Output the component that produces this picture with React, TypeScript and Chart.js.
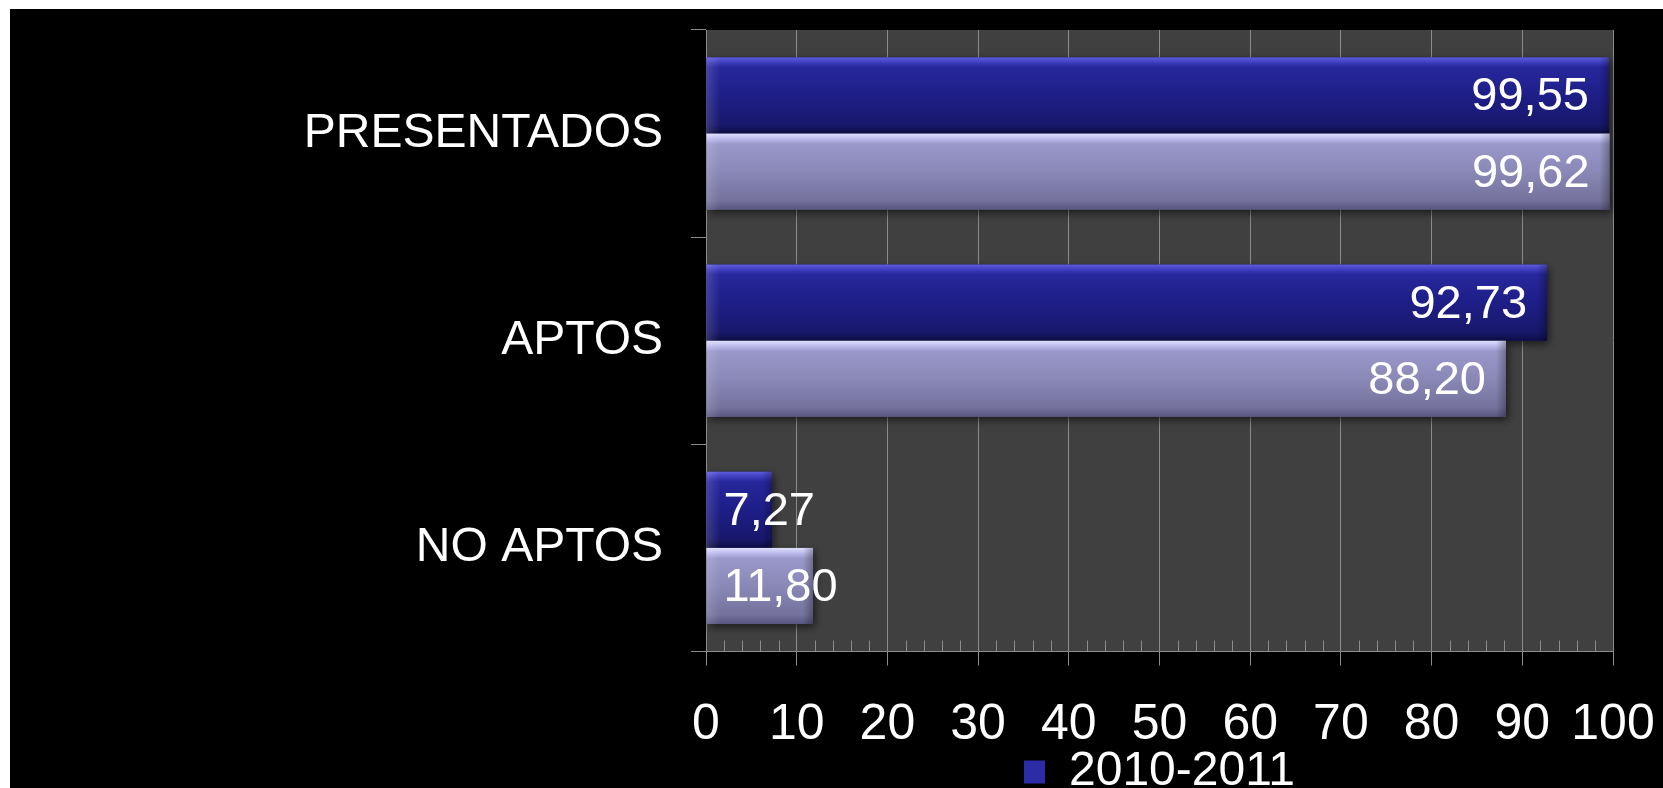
import React, { useEffect, useRef } from "react";
import { Chart, registerables } from "chart.js";

Chart.register(...registerables);

const categories = ["PRESENTADOS", "APTOS", "NO APTOS"];
const seriesNames = ["2010-2011", "2011-2012"];
const values20102011 = [99.55, 92.73, 7.27];
const values20112012 = [99.62, 88.2, 11.8];
const xMin = 0;
const xMax = 100;
const xStep = 10;
const minorStep = 2;

const FONT = "'Liberation Sans', Arial, Helvetica, sans-serif";

const darkStops: [number, string][] = [
  [0, "#5c5cdc"],
  [0.07, "#3c3cbc"],
  [0.13, "#27279c"],
  [0.5, "#1e1e88"],
  [0.88, "#18186c"],
  [1, "#0e0e48"],
];
const lightStops: [number, string][] = [
  [0, "#e0e0ff"],
  [0.07, "#bcbaec"],
  [0.14, "#9a98ca"],
  [0.5, "#8a88b6"],
  [0.88, "#74729c"],
  [1, "#585680"],
];

const bgPlugin = {
  id: "plotBg",
  beforeDraw(chart: any) {
    const { ctx, chartArea } = chart;
    ctx.save();
    ctx.fillStyle = "#404040";
    ctx.fillRect(chartArea.left, chartArea.top, chartArea.right - chartArea.left, chartArea.bottom - chartArea.top);
    ctx.restore();
  },
};

const minorTickPlugin = {
  id: "minorTicks",
  beforeDatasetsDraw(chart: any) {
    const { ctx, chartArea } = chart;
    const xs = chart.scales.x;
    ctx.save();
    ctx.strokeStyle = "#8c8c8c";
    ctx.lineWidth = 1;
    for (let v = xMin; v <= xMax; v += minorStep) {
      if (v % xStep === 0) continue;
      const px = Math.round(xs.getPixelForValue(v)) + 0.5;
      ctx.beginPath();
      ctx.moveTo(px, chartArea.bottom);
      ctx.lineTo(px, chartArea.bottom - 11);
      ctx.stroke();
    }
    ctx.restore();
  },
};

const barStylePlugin = {
  id: "barStyle",
  afterDatasetsDraw(chart: any) {
    const { ctx } = chart;
    const labelsToDraw: any[] = [];
    chart.data.datasets.forEach((ds: any, di: number) => {
      const meta = chart.getDatasetMeta(di);
      if (meta.hidden) return;
      const stops = di === 0 ? darkStops : lightStops;
      meta.data.forEach((el: any, i: number) => {
        const { x, y, base, height } = el.getProps(["x", "y", "base", "height"], true);
        const left = Math.min(x, base);
        const w = Math.abs(x - base);
        const top = y - height / 2;
        const g = ctx.createLinearGradient(0, top, 0, top + height);
        stops.forEach(([o, c]) => g.addColorStop(o, c));
        ctx.save();
        ctx.shadowColor = "rgba(0,0,0,0.6)";
        ctx.shadowBlur = 8;
        ctx.shadowOffsetX = 2;
        ctx.shadowOffsetY = 3;
        ctx.fillStyle = g;
        ctx.fillRect(left, top, w, height);
        ctx.restore();
        ctx.save();
        const gl = ctx.createLinearGradient(left, 0, left + 14, 0);
        gl.addColorStop(0, "rgba(255,255,255,0.14)");
        gl.addColorStop(1, "rgba(255,255,255,0)");
        ctx.fillStyle = gl;
        ctx.fillRect(left, top, Math.min(14, w), height);
        const gr = ctx.createLinearGradient(left + w - 10, 0, left + w, 0);
        gr.addColorStop(0, "rgba(0,0,0,0)");
        gr.addColorStop(1, "rgba(0,0,0,0.28)");
        ctx.fillStyle = gr;
        ctx.fillRect(left + w - 10, top, 10, height);
        ctx.restore();
        labelsToDraw.push({ x, y, base, w, v: ds.data[i] });
      });
    });
    ctx.save();
    ctx.font = `47px ${FONT}`;
    ctx.fillStyle = "#ffffff";
    ctx.textBaseline = "middle";
    labelsToDraw.forEach((l) => {
      const txt = Number(l.v).toFixed(2).replace(".", ",");
      const tw = ctx.measureText(txt).width;
      if (tw + 40 <= l.w) {
        ctx.textAlign = "right";
        ctx.fillText(txt, l.x - 20, l.y + 2);
      } else {
        ctx.textAlign = "left";
        ctx.fillText(txt, l.base + 17, l.y + 2);
      }
    });
    ctx.restore();
  },
};

export default function App() {
  const ref = useRef<HTMLCanvasElement | null>(null);
  useEffect(() => {
    if (!ref.current) return;
    Chart.defaults.font.family = FONT;
    const chart = new Chart(ref.current, {
      type: "bar",
      data: {
        labels: categories,
        datasets: [
          {
            label: seriesNames[0],
            data: values20102011,
            backgroundColor: "#2c2ca6",
            borderWidth: 0,
            barPercentage: 1,
            categoryPercentage: 0.735,
          },
          {
            label: seriesNames[1],
            data: values20112012,
            backgroundColor: "#8a88b6",
            borderWidth: 0,
            barPercentage: 1,
            categoryPercentage: 0.735,
          },
        ],
      },
      options: {
        indexAxis: "y",
        responsive: false,
        animation: false,
        devicePixelRatio: 1,
        layout: { padding: { top: 21, right: 50, left: 0, bottom: 0 } },
        scales: {
          x: {
            min: xMin,
            max: xMax,
            ticks: {
              stepSize: xStep,
              color: "#ffffff",
              font: { size: 50, lineHeight: 1.2 },
              padding: 30,
              maxRotation: 0,
              autoSkip: false,
            },
            grid: {
              color: "#8c8c8c",
              lineWidth: 1,
              tickLength: 14,
              drawTicks: true,
            },
            border: { color: "#8c8c8c", width: 1 },
            afterFit: (s: any) => {
              s.height = 90;
              s.paddingLeft = 0;
              s.paddingRight = 0;
              s.paddingTop = 0;
              s.paddingBottom = 0;
            },
          },
          y: {
            ticks: {
              color: "#ffffff",
              font: { size: 48 },
              padding: 28,
            },
            grid: {
              drawOnChartArea: false,
              color: "#8c8c8c",
              tickLength: 15,
              offset: true,
            },
            border: { color: "#8c8c8c", width: 1 },
            afterFit: (s: any) => {
              s.width = 696;
              s.paddingLeft = 0;
              s.paddingRight = 0;
              s.paddingTop = 0;
              s.paddingBottom = 0;
            },
          },
        },
        plugins: {
          tooltip: { enabled: false },
          legend: {
            position: "bottom",
            fullSize: false,
            labels: {
              color: "#ffffff",
              font: { size: 48 },
              boxWidth: 21,
              boxHeight: 23,
              padding: 6.5,
              filter: (item: any) => item.datasetIndex === 0,
            },
          },
        },
      },
      plugins: [bgPlugin, minorTickPlugin, barStylePlugin],
    } as any);
    return () => chart.destroy();
  }, []);
  return (
    <div
      style={{
        position: "fixed",
        left: 10,
        top: 9,
        width: 1653,
        height: 779,
        overflow: "hidden",
        background: "#000000",
      }}
    >
      <canvas ref={ref} width={1653} height={797} style={{ display: "block" }} />
    </div>
  );
}
